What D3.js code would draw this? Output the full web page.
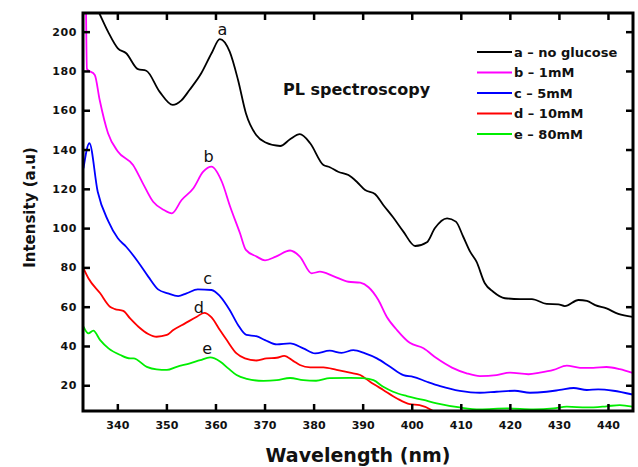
<!DOCTYPE html>
<html>
<head>
<meta charset="utf-8">
<script src="https://cdn.jsdelivr.net/npm/d3@7"></script>
<style>
  html, body { margin: 0; padding: 0; background: #fff; }
</style>
</head>
<body>
<div id="chart"></div>
<script>
// [wavelength nm, intensity a.u.]
const noGlucose = [
  [334.5, 219], [336.3, 209.5], [338.1, 200], [340.1, 191.5], [341.8, 189], [344.2, 180.9],
  [345.9, 180.1], [348.6, 169.5], [351.3, 162.7], [353, 164.9], [354.7, 170.3], [357.1, 178.8],
  [359.2, 189], [360.9, 196.2], [362.9, 189.8], [364.6, 175.4], [366.2, 158.5], [368.3, 147.4],
  [370.1, 143.7], [373.2, 141.8], [375.2, 145.2], [377.2, 147.8], [379.3, 143.2], [382.0, 132.1],
  [383.3, 131.0], [385.0, 128.7], [387.1, 127.0], [388.8, 123.6], [390.5, 119.4], [392.5, 117.4],
  [394.2, 111.8], [396.2, 105.5], [398.3, 98.2], [400.7, 90.9], [403.1, 92.8], [404.7, 99.9],
  [407.2, 105.0], [409.0, 103.3], [410.5, 95.6], [411.9, 88.0], [413.2, 82.9], [414.9, 71.9],
  [416.6, 67.6], [419.0, 64.3], [422.1, 63.9], [424.5, 63.9], [427.5, 61.4], [429.9, 61.2],
  [431.2, 60.3], [434.0, 63.4], [435.7, 62.9], [437.4, 60.8], [439.7, 59.1], [442.1, 56.3],
  [445, 54.8]
];
const glucose1mM = [
  [333.6, 216], [333.8, 181], [335.4, 178], [336.4, 165.2], [338.1, 148.3], [340.1, 139],
  [343.2, 132.1], [345.2, 122.8], [347.3, 113.4], [349.5, 109.2], [351.1, 107.5], [353.1, 114.3],
  [355.5, 120.3], [357.5, 128.7], [359.2, 131.3], [361.3, 123.6], [363, 110.9], [365, 97.4],
  [366.2, 88.9], [368.4, 85.5], [370.1, 83.6], [372.3, 85.5], [375.2, 88.6], [377.2, 85.5],
  [379.6, 77.0], [381.3, 77.8], [384, 75.6], [387.1, 72.7], [389.5, 72.2], [391.2, 69.9],
  [393.2, 63.4], [394.9, 54.9], [397, 48.1], [399.6, 41.6], [402.4, 38.8], [405.1, 33.7],
  [408.2, 29.0], [411.2, 26.1], [413.9, 24.7], [417.3, 25.2], [420.0, 26.4], [423.8, 25.6],
  [426.1, 26.4], [428.9, 27.8], [431.6, 30.0], [434.3, 28.9], [437.0, 28.9], [439.7, 29.3],
  [442.4, 28.2], [445, 26.3]
];
const glucose5mM = [
  [333.1, 130.4], [334.3, 143.2], [336, 118.5], [338.2, 103.3], [340.1, 94.8], [341.8, 90.5],
  [344.2, 82.9], [346.3, 75.3], [348.3, 68.8], [350.3, 66.8], [352.4, 65.4], [354.1, 66.8],
  [356.4, 68.8], [359.2, 68.5], [360.9, 65.4], [362.9, 58.3], [364.6, 50.7], [366.3, 45.6],
  [368.3, 45.0], [370.1, 43.0], [372.5, 40.8], [375.2, 41.3], [377.9, 38.8], [380.3, 36.2],
  [383.3, 37.6], [385.7, 36.5], [388.1, 37.9], [390.5, 36.2], [392.9, 33.7], [395.6, 29.4],
  [398.3, 25.2], [400.3, 24.3], [403.1, 21.8], [405.8, 19.6], [409.8, 17.2], [413.9, 16.2],
  [417.3, 16.7], [421.0, 17.2], [424.1, 16.2], [427.5, 16.7], [430.2, 17.6], [433, 18.6],
  [435.7, 17.6], [438.0, 17.9], [441.1, 17.2], [445, 15.3]
];
const glucose10mM = [
  [333.1, 79.5], [334.1, 74.5], [336.5, 66.8], [338.5, 60.0], [339.5, 58.8], [341.2, 57.9],
  [342.6, 54.0], [344.3, 49.8], [346.3, 46.1], [348.0, 44.7], [350.1, 45.6], [351.4, 48.1],
  [353.8, 51.5], [356.2, 54.9], [357.7, 56.9], [359.2, 54.6], [360.9, 48.1], [362.3, 43.0],
  [364.3, 36.2], [366, 33.7], [368.4, 32.6], [370.4, 33.7], [372.5, 34.0], [374.0, 35.0],
  [375.9, 32.3], [377.2, 30.3], [379.3, 29.1], [382.0, 29.1], [384.7, 27.8], [387.4, 26.4],
  [389.5, 25.2], [391.5, 21.8], [394.2, 17.6], [397, 13.3], [399.6, 10.4], [401.6, 9.9],
  [404.1, 7.3], [405, 5.5]
];
const glucose80mM = [
  [333.1, 49.8], [334.1, 46.4], [335.1, 47.8], [336.5, 43.0], [338.2, 38.8], [340.6, 35.4],
  [342.6, 33.7], [343.3, 33.7], [346, 29.4], [348, 28.1], [350.1, 27.8], [352.1, 29.4],
  [354.8, 31.2], [356.9, 32.8], [358.9, 34.2], [361, 32.0], [362.6, 28.6], [364.3, 25.2],
  [366.4, 23.3], [369.8, 22.2], [372.5, 22.6], [375.2, 23.7], [377.9, 22.6], [380.5, 22.3],
  [383.3, 23.6], [387.4, 23.8], [390.1, 23.6], [392.2, 22.6], [394.2, 19.2], [396.2, 16.7],
  [399, 14.5], [402.4, 12.5], [405.1, 10.8], [409.8, 8.7], [413.9, 7.7], [419.4, 8.2],
  [424.8, 7.7], [428.9, 8.2], [431.6, 9.1], [435.7, 8.7], [439.7, 9.3], [442.4, 9.9],
  [445, 9.1]
];

const seriesNames = ["a – no glucose", "b – 1mM", "c – 5mM", "d – 10mM", "e – 80mM"];
const seriesLetters = ["a", "b", "c", "d", "e"];
const seriesColors = ["#000000", "#ff00ff", "#0000ff", "#ff0000", "#00ee00"];
const seriesData = [noGlucose, glucose1mM, glucose5mM, glucose10mM, glucose80mM];
// where each curve letter sits, [nm, intensity]
const letterSpots = [[361.4, 198.3], [358.6, 133.8], [358.4, 71.5], [356.6, 56.8], [358.3, 35.9]];

const xTicks = [340, 350, 360, 370, 380, 390, 400, 410, 420, 430, 440];
const yTicks = [20, 40, 60, 80, 100, 120, 140, 160, 180, 200];

const margin = { top: 13, right: 5, bottom: 56, left: 83 };
const totalWidth = 638;
const totalHeight = 467;
const width = totalWidth - margin.left - margin.right;
const height = totalHeight - margin.top - margin.bottom;
const boldFont = "'DejaVu Sans', Verdana, sans-serif";

const svgEl = d3
  .select("#chart")
  .append("svg")
  .attr("width", totalWidth)
  .attr("height", totalHeight)
  .style("font-family", boldFont);

const svg = svgEl.append("g").attr("transform", `translate(${margin.left},${margin.top})`);

const x = d3.scaleLinear().domain([333, 445.1]).range([0, width]);
const y = d3.scaleLinear().domain([6.9, 209.5]).range([height, 0]);

svg
  .append("clipPath")
  .attr("id", "plot-clip")
  .append("rect")
  .attr("width", width)
  .attr("height", height);

const lineGen = d3
  .line()
  .x((d) => x(d[0]))
  .y((d) => y(d[1]))
  .curve(d3.curveMonotoneX);

const curves = svg.append("g").attr("clip-path", "url(#plot-clip)");
seriesData.forEach((data, i) => {
  curves
    .append("path")
    .datum(data)
    .attr("fill", "none")
    .attr("stroke", seriesColors[i])
    .attr("stroke-width", 1.8)
    .attr("stroke-linejoin", "round")
    .attr("d", lineGen);
});

// axes, ticks pointing inward on all four sides
const tickLen = 7;
function styleAxis(g) {
  g.select(".domain").remove();
  g.selectAll(".tick line").attr("stroke", "#000").attr("stroke-width", 2.5);
  g.selectAll(".tick text")
    .attr("font-size", "11px")
    .attr("font-weight", "bold")
    .attr("font-family", boldFont)
    .attr("fill", "#111");
}

svg
  .append("g")
  .attr("transform", `translate(0,${height})`)
  .call(d3.axisBottom(x).tickValues(xTicks).tickSize(-tickLen).tickPadding(10.5))
  .call(styleAxis);

svg
  .append("g")
  .call(d3.axisTop(x).tickValues(xTicks).tickSize(-tickLen).tickFormat(""))
  .call(styleAxis);

svg
  .append("g")
  .call(d3.axisLeft(y).tickValues(yTicks).tickSize(-tickLen).tickPadding(6))
  .call(styleAxis)
  .selectAll(".tick text")
  .attr("letter-spacing", "0.6px");

svg
  .append("g")
  .attr("transform", `translate(${width},0)`)
  .call(d3.axisRight(y).tickValues(yTicks).tickSize(-tickLen).tickFormat(""))
  .call(styleAxis);

svg
  .append("rect")
  .attr("width", width)
  .attr("height", height)
  .attr("fill", "none")
  .attr("stroke", "#000")
  .attr("stroke-width", 3);

// axis titles
svg
  .append("text")
  .attr("x", width / 2)
  .attr("y", height + 51)
  .attr("text-anchor", "middle")
  .attr("font-size", "19px")
  .attr("font-weight", "bold")
  .attr("fill", "#111")
  .text("Wavelength (nm)");

svg
  .append("text")
  .attr("transform", "rotate(-90)")
  .attr("x", -(height / 2) + 4.5)
  .attr("y", -48)
  .attr("text-anchor", "middle")
  .attr("font-size", "15px")
  .attr("font-weight", "bold")
  .attr("fill", "#111")
  .text("Intensity (a.u)");

svg
  .append("text")
  .attr("x", 200)
  .attr("y", 82)
  .attr("font-size", "16px")
  .attr("font-weight", "bold")
  .attr("fill", "#111")
  .text("PL spectroscopy");

// curve letters
seriesLetters.forEach((letter, i) => {
  svg
    .append("text")
    .attr("x", x(letterSpots[i][0]))
    .attr("y", y(letterSpots[i][1]))
    .attr("text-anchor", "middle")
    .attr("font-size", "16px")
    .attr("fill", "#111")
    .text(letter);
});

// legend
const legend = svg.append("g").attr("transform", "translate(394,39)");
seriesNames.forEach((name, i) => {
  const row = legend.append("g").attr("transform", `translate(0,${i * 20.5})`);
  row
    .append("line")
    .attr("x1", 0)
    .attr("x2", 35)
    .attr("stroke", seriesColors[i])
    .attr("stroke-width", 2);
  row
    .append("text")
    .attr("x", 37)
    .attr("y", 4.5)
    .attr("font-size", "13px")
    .attr("font-weight", "bold")
    .attr("fill", "#111")
    .text(name);
});
</script>
</body>
</html>
